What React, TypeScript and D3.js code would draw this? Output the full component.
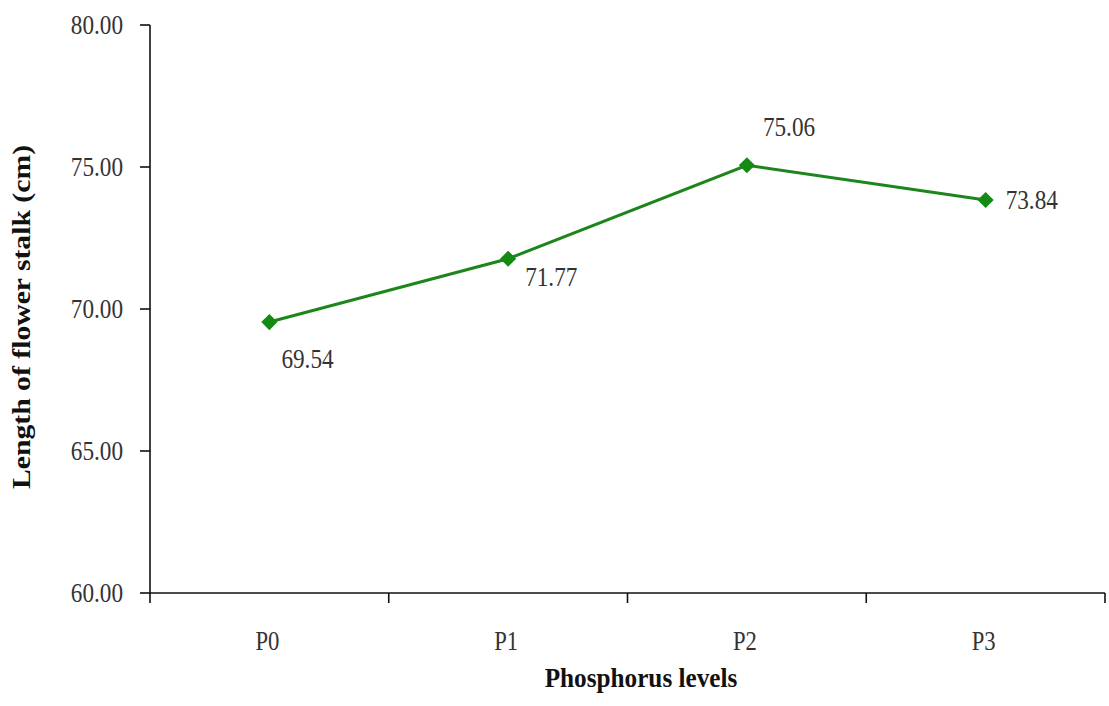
import React from "react";
import * as d3 from "d3";

const categories = ["P0", "P1", "P2", "P3"];
const values = [69.54, 71.77, 75.06, 73.84];
const yTicks = [60, 65, 70, 75, 80];
// label offsets relative to each point (style, not data)
const labelDx = [12, 17, 16, 20];
const labelDy = [46, 27, -29, 9];

const W = 1109;
const H = 706;
const M = { left: 150, right: 4, top: 25, bottom: 114 };

export default function App() {
  const x = d3
    .scaleBand<string>()
    .domain(categories)
    .range([M.left, W - M.right]);
  const y = d3.scaleLinear().domain([60, 80]).range([H - M.bottom + 1, M.top]);
  const cx = (c: string) => (x(c) as number) + x.bandwidth() / 2;
  const line = d3
    .line<number>()
    .x((_, i) => cx(categories[i]))
    .y((d) => y(d));
  const diamond = d3.symbol().type(d3.symbolSquare).size(130)();
  const fmt = d3.format(".2f");
  const serif = "'Liberation Serif', 'Times New Roman', 'DejaVu Serif', serif";
  const bottom = y(60);
  const xBoundaries = [...categories.map((c) => x(c) as number), W - M.right];

  return (
    <svg
      width={W}
      height={H}
      style={{ position: "absolute", left: 0, top: 0, background: "#fff" }}
    >
      {/* y axis */}
      <line x1={M.left} x2={M.left} y1={y(80)} y2={bottom} stroke="#111" strokeWidth={1.6} />
      {yTicks.map((t) => (
        <g key={t}>
          <line x1={M.left - 10} x2={M.left} y1={y(t)} y2={y(t)} stroke="#111" strokeWidth={1.6} />
          <text
            transform={`translate(${M.left - 27},${y(t) + 9}) scale(0.86,1)`}
            textAnchor="end"
            fontFamily={serif}
            fontSize={27}
            fill="#333"
          >
            {fmt(t)}
          </text>
        </g>
      ))}
      {/* x axis */}
      <line x1={M.left} x2={W - M.right} y1={bottom} y2={bottom} stroke="#111" strokeWidth={1.6} />
      {xBoundaries.map((b, i) => (
        <line key={i} x1={b} x2={b} y1={bottom} y2={bottom + 10} stroke="#111" strokeWidth={1.6} />
      ))}
      {categories.map((c) => (
        <text
          key={c}
          transform={`translate(${cx(c) - 2},${bottom + 57}) scale(0.84,1)`}
          textAnchor="middle"
          fontFamily={serif}
          fontSize={27}
          fill="#333"
        >
          {c}
        </text>
      ))}
      {/* line */}
      <path d={line(values) || ""} fill="none" stroke="#1c861c" strokeWidth={3} />
      {values.map((v, i) => (
        <path
          key={i}
          d={diamond || ""}
          transform={`translate(${cx(categories[i])},${y(v)}) rotate(45)`}
          fill="#138a13"
        />
      ))}
      {values.map((v, i) => (
        <text
          key={i}
          transform={`translate(${cx(categories[i]) + labelDx[i]},${y(v) + labelDy[i]}) scale(0.86,1)`}
          textAnchor="start"
          fontFamily={serif}
          fontSize={27}
          fill="#333"
        >
          {fmt(v)}
        </text>
      ))}
      {/* titles */}
      <text
        transform={`translate(641,687) scale(0.97,1.05)`}
        textAnchor="middle"
        fontFamily={serif}
        fontWeight="bold"
        fontSize={26}
        fill="#111"
      >
        Phosphorus levels
      </text>
      <text
        transform={`translate(30,317) rotate(-90) scale(1.1,0.95)`}
        textAnchor="middle"
        fontFamily={serif}
        fontWeight="bold"
        fontSize={27}
        fill="#111"
      >
        Length of flower stalk (cm)
      </text>
    </svg>
  );
}
